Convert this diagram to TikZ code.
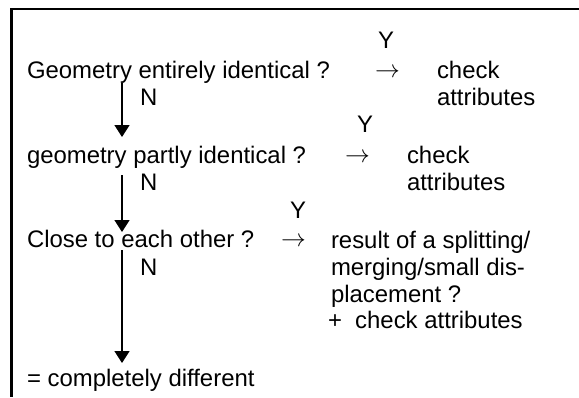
\documentclass[tikz,border=0pt]{standalone}
\usepackage{fontspec}
\setmainfont{Liberation Sans}
\usetikzlibrary{arrows.meta}
\tikzset{
  txt/.style={anchor=base west, inner sep=0pt, outer sep=0pt,
    font=\fontsize{24}{27}\selectfont},
  yes/.style={txt, text depth=0pt},
  arr/.style={anchor=base west, inner sep=0pt, outer sep=0pt,
    text height=8pt, text depth=0pt,
    font=\fontsize{24}{27}\selectfont},
  flow/.style={line width=1.5pt, -{Triangle[width=15pt,length=12pt]}},
  frame/.style={line width=2.6pt}
}
\begin{document}
\begin{tikzpicture}[x=1bp,y=-1bp]
\useasboundingbox (0,0) rectangle (579,397);
% open frame: top and left edges only
\draw[frame] (579,9) -- (11.3,9) -- (11.3,397);

% first test
\node[yes] (y1) at (378,48) {Y};
\node[txt] (q1) at (27,78) {Geometry entirely identical ?};
\node[arr] (a1) at (375,77) {$\rightarrow$};
\node[txt] (c1) at (437,78) {check};
\node[txt] (c1b) at (437,105) {attributes};
\node[txt] (n1) at (140,105) {N};

% second test
\node[yes] (y2) at (357,132) {Y};
\node[txt] (q2) at (27,163) {geometry partly identical ?};
\node[arr] (a2) at (345,162) {$\rightarrow$};
\node[txt] (c2) at (407,163) {check};
\node[txt] (c2b) at (407,190) {attributes};
\node[txt] (n2) at (140,190) {N};

% third test
\node[yes] (y3) at (290,218) {Y};
\node[txt] (q3) at (27,247) {Close to each other ?};
\node[arr] (a3) at (281,246) {$\rightarrow$};
\node[txt] (r1) at (331,248) {result of a splitting/};
\node[txt] (r2) at (331,275) {merging/small dis-};
\node[txt] (r3) at (331,302) {placement ?};
\node[txt] (r4) at (328,328) {+\ \ check attributes};
\node[txt] (n3) at (140,275) {N};

% final outcome
\node[txt] (q4) at (27,386) {= completely different};

% "no" branches
\coordinate (s1) at (122,83);
\coordinate (e1) at (122,137);
\coordinate (s2) at (122,175);
\coordinate (e2) at (122,232);
\coordinate (s3) at (122,250);
\coordinate (e3) at (122,363);
\draw[flow] (s1) -- (e1);
\draw[flow] (s2) -- (e2);
\draw[flow] (s3) -- (e3);
\end{tikzpicture}
\end{document}
